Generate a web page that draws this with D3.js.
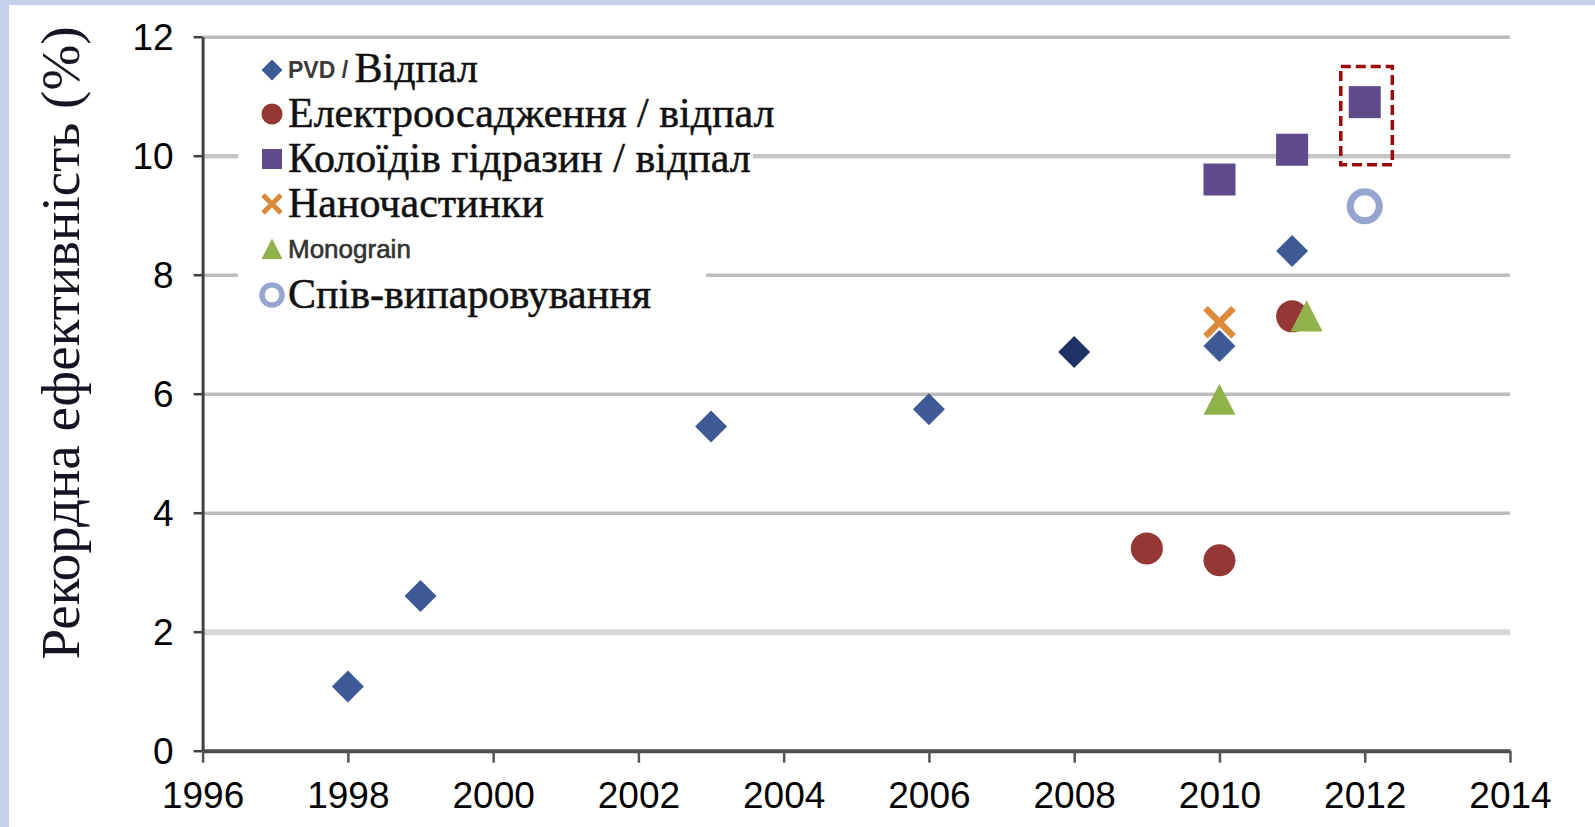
<!DOCTYPE html>
<html>
<head>
<meta charset="utf-8">
<script src="https://cdn.jsdelivr.net/npm/d3@7"></script>
<style>
  html, body { margin: 0; padding: 0; background: #fff; overflow: hidden; }
  svg { display: block; }
</style>
</head>
<body>
<svg id="chart" width="1595" height="827"></svg>
<script>
// ---- Record efficiency (%) by year for each fabrication route ----
const pvdYears = [1998, 1999, 2003, 2006, 2008, 2010, 2011];
const pvdValues = [1.08, 2.6, 5.45, 5.74, 6.7, 6.8, 8.4];

const electroYears = [2009, 2010, 2011];
const electroValues = [3.4, 3.2, 7.3];

const colloidYears = [2010, 2011, 2012];
const colloidValues = [9.6, 10.1, 10.9];

const nanoYears = [2010];
const nanoValues = [7.2];

const monograinYears = [2010, 2011.2];
const monograinValues = [5.9, 7.3];

const coevapYears = [2012];
const coevapValues = [9.15];

const seriesNames = [
  "PVD / Відпал",
  "Електроосадження / відпал",
  "Колоїдів гідразин / відпал",
  "Наночастинки",
  "Monograin",
  "Спів-випаровування"
];

const xTicks = [1996, 1998, 2000, 2002, 2004, 2006, 2008, 2010, 2012, 2014];
const yTicks = [0, 2, 4, 6, 8, 10, 12];
const yAxisTitle = "Рекордна ефективність (%)";

// dashed frame around the 2012 record: [year from, year to, value from, value to]
const recordFrame = [2011.67, 2012.38, 9.85, 11.5];

// ---- Layout ----
const W = 1595, H = 827;
const plot = { left: 202.6, right: 1510, top: 36.7, bottom: 750.7 };

const svg = d3.select("#chart");

// light blue frame strips along the top and left edges
svg.append("rect").attr("x", 0).attr("y", 0).attr("width", W).attr("height", H).attr("fill", "#fff");
svg.append("rect").attr("x", 0).attr("y", 0).attr("width", W).attr("height", 5).attr("fill", "#c3d2ea");
svg.append("rect").attr("x", 0).attr("y", 0).attr("width", 9).attr("height", H).attr("fill", "#c3d2ea");

const x = d3.scaleLinear().domain([1996, 2014]).range([plot.left, plot.right]);
const y = d3.scaleLinear().domain([0, 12]).range([plot.bottom, plot.top]);

const SANS = "'Liberation Sans', Arial, sans-serif";
const SERIF = "'Liberation Serif', 'Times New Roman', serif";

// ---- Horizontal gridlines ----
const grid = svg.append("g").attr("transform", `translate(${plot.left},0)`)
  .call(d3.axisLeft(y).tickValues(yTicks.filter(d => d > 0))
    .tickSize(-(plot.right - plot.left)).tickFormat(""));
grid.select(".domain").remove();
grid.selectAll(".tick line")
  .attr("stroke", d => d === 2 ? "#d6d6d6" : (d === 10 ? "#c6c6c6" : "#bdbdbd"))
  .attr("stroke-width", d => d === 2 ? 6 : (d === 10 ? 4.5 : 3.5));

// ---- Y axis ----
const yAxis = svg.append("g").attr("transform", `translate(${plot.left},0)`)
  .call(d3.axisLeft(y).tickValues(yTicks).tickSize(9).tickSizeOuter(0).tickPadding(20));
yAxis.select(".domain").attr("stroke", "#404040").attr("stroke-width", 3);
yAxis.selectAll(".tick line").attr("stroke", "#404040").attr("stroke-width", 2.5);
yAxis.selectAll(".tick text")
  .attr("font-family", SANS).attr("font-size", 37).attr("fill", "#000")
  .attr("dy", "0.35em");

// ---- X axis ----
const xAxis = svg.append("g").attr("transform", `translate(0,${plot.bottom})`)
  .call(d3.axisBottom(x).tickValues(xTicks).tickSize(12).tickSizeOuter(0)
    .tickPadding(18.7).tickFormat(d3.format("d")));
xAxis.select(".domain").attr("stroke", "#4d4d4d").attr("stroke-width", 4);
xAxis.selectAll(".tick line").attr("stroke", "#555").attr("stroke-width", 2.5);
xAxis.selectAll(".tick text")
  .attr("font-family", SANS).attr("font-size", 37).attr("fill", "#000");

// ---- Y axis title ----
svg.append("text")
  .attr("transform", "translate(79,343) rotate(-90)")
  .attr("text-anchor", "middle")
  .attr("font-family", SERIF).attr("font-size", 55).attr("fill", "#141422")
  .text(yAxisTitle);

// ---- Marker shapes ----
const shapes = {
  diamond: (g, s) => g.append("path").attr("d", `M0,${-s} L${s},0 L0,${s} L${-s},0 Z`),
  circle: (g, s) => g.append("circle").attr("r", s),
  square: (g, s) => g.append("rect").attr("x", -s).attr("y", -s).attr("width", 2 * s).attr("height", 2 * s),
  cross: (g, s) => g.append("path").attr("d", `M${-s},${-s} L${s},${s} M${s},${-s} L${-s},${s}`),
  triangle: (g, s) => g.append("path").attr("d", `M0,${-s} L${s},${s * 0.95} L${-s},${s * 0.95} Z`),
  ring: (g, s) => g.append("circle").attr("r", s)
};

const series = [
  { key: "pvd", xs: pvdYears, vs: pvdValues, shape: "diamond", color: "#3d5a96", size: 16, legendSize: 10.5 },
  { key: "electro", xs: electroYears, vs: electroValues, shape: "circle", color: "#953735", size: 16, legendSize: 10.5 },
  { key: "colloid", xs: colloidYears, vs: colloidValues, shape: "square", color: "#5f4a8b", size: 16, legendSize: 10 },
  { key: "nano", xs: nanoYears, vs: nanoValues, shape: "cross", color: "#dc8a3b", size: 14, legendSize: 9 },
  { key: "monograin", xs: monograinYears, vs: monograinValues, shape: "triangle", color: "#91b24b", size: 16, legendSize: 10.5 },
  { key: "coevap", xs: coevapYears, vs: coevapValues, shape: "ring", color: "#96a4d0", size: 14.5, legendSize: 10 }
];
series.forEach((s, i) => { s.name = seriesNames[i]; });

function styleMarker(sel, s, legend) {
  if (s.shape === "cross") {
    sel.attr("fill", "none").attr("stroke", s.color).attr("stroke-width", legend ? 5 : 6.5);
  } else if (s.shape === "ring") {
    sel.attr("fill", "none").attr("stroke", s.color).attr("stroke-width", legend ? 5.5 : 7);
  } else {
    sel.attr("fill", s.color);
  }
}

// ---- Dashed frame around the 2012 record ----
svg.append("rect")
  .attr("x", x(recordFrame[0])).attr("y", y(recordFrame[3]))
  .attr("width", x(recordFrame[1]) - x(recordFrame[0]))
  .attr("height", y(recordFrame[2]) - y(recordFrame[3]))
  .attr("fill", "none").attr("stroke", "#9c0b0b")
  .attr("stroke-width", 3.5).attr("stroke-dasharray", "10,5");

// ---- Points (crosses first so the diamond at 2010 sits on top) ----
const drawOrder = ["nano", "pvd", "electro", "colloid", "monograin", "coevap"];
const pts = svg.append("g");
drawOrder.forEach(k => {
  const s = series.find(d => d.key === k);
  s.xs.forEach((yr, j) => {
    const g = pts.append("g").attr("transform", `translate(${x(yr)},${y(s.vs[j])})`);
    const m = shapes[s.shape](g, s.size);
    styleMarker(m, s, false);
    // the 2008 PVD point is rendered in a deeper navy
    if (k === "pvd" && yr === 2008) m.attr("fill", "#1f3266");
  });
});

// ---- Legend ----
const legend = svg.append("g");
legend.append("rect").attr("x", 238).attr("y", 46).attr("width", 468).attr("height", 274).attr("fill", "#fff");

const rowY = [70, 114, 159, 204, 249, 295];
series.forEach((s, i) => {
  const cy = rowY[i];
  const row = legend.append("g");
  const bg = row.append("rect").attr("fill", "#fff");
  const mg = row.append("g").attr("transform", `translate(272,${cy})`);
  styleMarker(shapes[s.shape](mg, s.legendSize), s, true);

  const t = row.append("text").attr("x", 288).attr("y", cy).attr("fill", "#111");
  const serifPart = sel => sel.attr("font-family", SERIF).attr("font-size", 42)
    .attr("stroke", "#111").attr("stroke-width", 0.5);
  if (s.key === "pvd") {
    const parts = s.name.split(" / ");
    t.append("tspan").attr("font-family", SANS).attr("font-weight", "bold").attr("font-size", 23)
      .attr("fill", "#3a3a3a").attr("dy", 8).text(parts[0] + " / ");
    serifPart(t.append("tspan").attr("dy", 4).text(parts[1]));
  } else if (s.key === "monograin") {
    t.attr("font-family", SANS).attr("font-size", 26)
      .attr("fill", "#333").attr("stroke", "#333").attr("stroke-width", 0.6)
      .attr("dy", 9).text(s.name);
  } else {
    serifPart(t).attr("dy", 13).text(s.name);
  }
  const bb = t.node().getBBox();
  bg.attr("x", bb.x - 2).attr("y", bb.y + 4).attr("width", bb.width + 4).attr("height", bb.height - 6);
});
</script>
</body>
</html>
